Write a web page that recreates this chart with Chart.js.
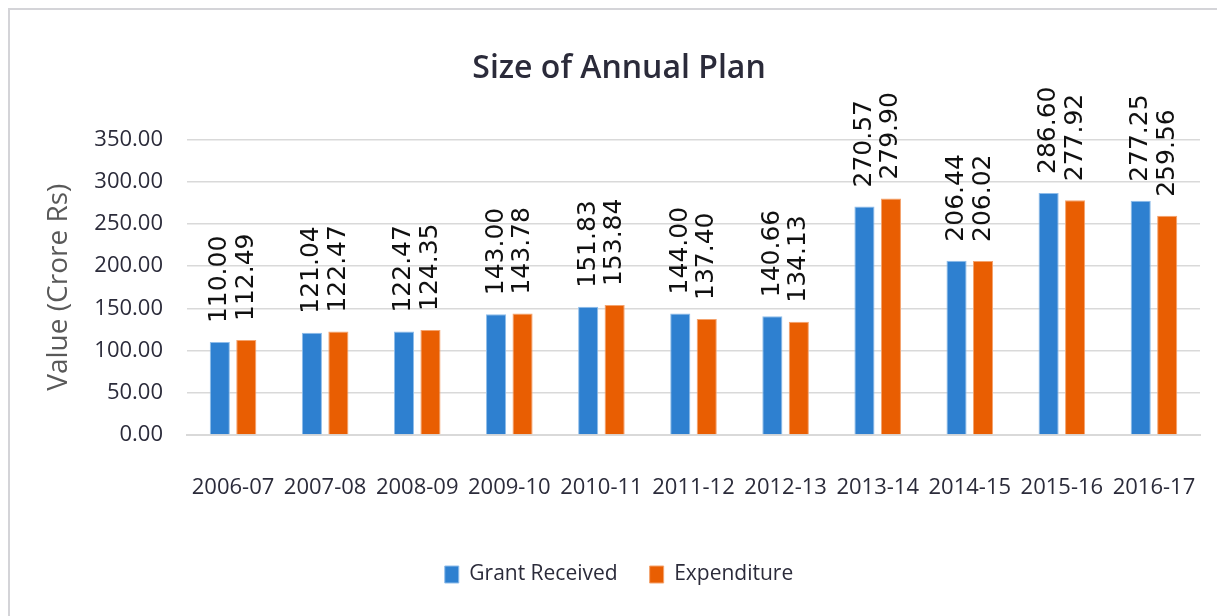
<!DOCTYPE html>
<html lang="en">
<head>
    <meta charset="UTF-8">
    <title>Size of Annual Plan</title>
    <script src="https://cdn.jsdelivr.net/npm/chart.js"></script>
    <style>
        html, body {
            margin: 0;
            padding: 0;
            background: #ffffff;
            overflow: hidden;
        }
        .frame {
            position: absolute;
            left: 8px;
            top: 8px;
            width: 1400px;
            height: 800px;
            border-left: 2px solid #d4d4d8;
            border-top: 2px solid #d4d4d8;
        }
        .chart-container {
            position: absolute;
            left: 0;
            top: 0;
            width: 1217px;
            height: 616px;
        }
    </style>
</head>
<body>
    <div class="frame"></div>
    <div class="chart-container">
        <canvas id="planChart"></canvas>
    </div>

    <script>
        const years = ['2006-07', '2007-08', '2008-09', '2009-10', '2010-11', '2011-12',
                       '2012-13', '2013-14', '2014-15', '2015-16', '2016-17'];
        const grantReceived = [110.00, 121.04, 122.47, 143.00, 151.83, 144.00, 140.66, 270.57, 206.44, 286.60, 277.25];
        const expenditure = [112.49, 122.47, 124.35, 143.78, 153.84, 137.40, 134.13, 279.90, 206.02, 277.92, 259.56];
        const yTicks = [0, 50, 100, 150, 200, 250, 300, 350];

        const sans = '"Open Sans", sans-serif';
        const textColor = '#2b2b3a';

        // value labels drawn vertically above each bar
        const barLabels = {
            id: 'barLabels',
            afterDatasetsDraw(chart) {
                const ctx = chart.ctx;
                ctx.save();
                ctx.font = '25px "DejaVu Sans", sans-serif';
                ctx.fillStyle = '#111111';
                ctx.textAlign = 'left';
                ctx.textBaseline = 'middle';
                chart.data.datasets.forEach((ds, i) => {
                    chart.getDatasetMeta(i).data.forEach((bar, j) => {
                        ctx.save();
                        ctx.translate(bar.x, bar.y - 19);
                        ctx.rotate(-Math.PI / 2);
                        ctx.fillText(ds.data[j].toFixed(2), 0, 0);
                        ctx.restore();
                    });
                });
                ctx.restore();
            }
        };

        const padLeft = 38;

        new Chart(document.getElementById('planChart'), {
            type: 'bar',
            data: {
                labels: years,
                datasets: [{
                    label: 'Grant Received',
                    data: grantReceived,
                    backgroundColor: '#2e80d0',
                    borderColor: '#8fbdea',
                    borderWidth: 1,
                    categoryPercentage: 0.575,
                    barPercentage: 0.76
                }, {
                    label: 'Expenditure',
                    data: expenditure,
                    backgroundColor: '#e95e02',
                    borderColor: '#f4a36e',
                    borderWidth: 1,
                    categoryPercentage: 0.575,
                    barPercentage: 0.76
                }]
            },
            options: {
                responsive: true,
                maintainAspectRatio: false,
                animation: false,
                layout: {
                    padding: { left: padLeft, right: 17, top: 0, bottom: 21 }
                },
                plugins: {
                    title: {
                        display: true,
                        text: 'Size of Annual Plan',
                        color: textColor,
                        font: { family: sans, size: 32, weight: '600' },
                        padding: { top: 50, bottom: 51 }
                    },
                    legend: {
                        position: 'bottom',
                        labels: {
                            color: textColor,
                            font: { family: sans, size: 21 },
                            boxWidth: 14,
                            boxHeight: 17,
                            padding: 32
                        }
                    },
                    tooltip: { enabled: false }
                },
                scales: {
                    x: {
                        grid: { display: false, drawTicks: false },
                        border: { color: '#d9d9d9', width: 2 },
                        ticks: {
                            color: textColor,
                            font: { family: sans, size: 22 },
                            padding: 40,
                            maxRotation: 0,
                            autoSkip: false
                        },
                        afterFit(scale) {
                            scale.height = 97;
                            scale.paddingLeft = 0;
                            scale.paddingRight = 0;
                        }
                    },
                    y: {
                        min: 0,
                        max: 350,
                        afterBuildTicks(scale) {
                            scale.ticks = yTicks.map(v => ({ value: v }));
                        },
                        grid: { color: '#d9d9d9', lineWidth: 1.5, drawTicks: false },
                        border: { display: false },
                        ticks: {
                            color: textColor,
                            font: { family: sans, size: 22 },
                            padding: 24,
                            callback: v => v.toFixed(2)
                        },
                        title: {
                            display: true,
                            text: 'Value (Crore Rs)',
                            color: '#595959',
                            font: { family: sans, size: 28 },
                            padding: 4
                        },
                        afterFit(scale) { scale.width = 187 - padLeft; }
                    }
                }
            },
            plugins: [barLabels]
        });
    </script>
</body>
</html>
